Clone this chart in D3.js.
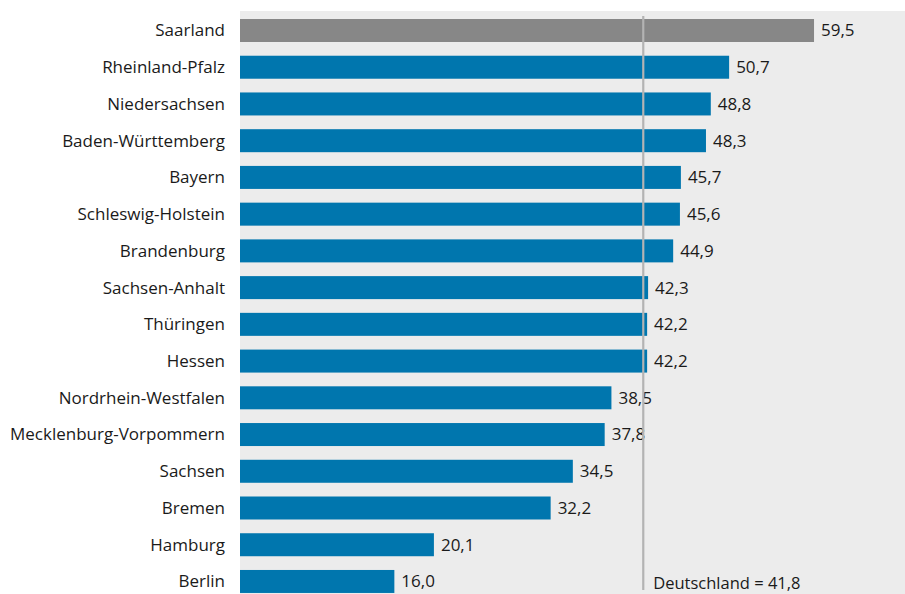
<!DOCTYPE html>
<html>
<head>
<meta charset="utf-8">
<script src="https://cdn.jsdelivr.net/npm/d3@7"></script>
<style>
  html, body { margin: 0; padding: 0; background: #ffffff; }
  svg { display: block; }
  text { font-family: "Open Sans", "Noto Sans", sans-serif; fill: #1a1a1a; }
</style>
</head>
<body>
<svg id="chart" width="905" height="594"></svg>
<script>
// Bundesländer, sorted by value
const states = [
  "Saarland", "Rheinland-Pfalz", "Niedersachsen", "Baden-Württemberg", "Bayern",
  "Schleswig-Holstein", "Brandenburg", "Sachsen-Anhalt", "Thüringen", "Hessen",
  "Nordrhein-Westfalen", "Mecklenburg-Vorpommern", "Sachsen", "Bremen", "Hamburg", "Berlin"
];
const values = [59.5, 50.7, 48.8, 48.3, 45.7, 45.6, 44.9, 42.3, 42.2, 42.2, 38.5, 37.8, 34.5, 32.2, 20.1, 16.0];
const highlighted = ["Saarland"];
const nationalLabel = "Deutschland";
const nationalValue = 41.8;

const fmt = v => d3.format(".1f")(v).replace(".", ",");

const svg = d3.select("#chart");
const W = 905, H = 594;
const plotLeft = 240, plotTop = 11;
const fontSize = 17;

const x = d3.scaleLinear().domain([0, 68.93]).range([plotLeft, W]);
const y = d3.scaleBand().domain(states).range([5.26, 606.7]).padding(0.374);

// plot background
svg.append("rect")
  .attr("x", plotLeft).attr("y", plotTop)
  .attr("width", W - plotLeft).attr("height", H - plotTop)
  .attr("fill", "#ececec");

const data = states.map((s, i) => ({ state: s, value: values[i] }));

// bars
svg.append("g").selectAll("rect").data(data).join("rect")
  .attr("x", x(0))
  .attr("y", d => y(d.state))
  .attr("width", d => x(d.value) - x(0))
  .attr("height", y.bandwidth())
  .attr("fill", d => highlighted.includes(d.state) ? "#878787" : "#0076ae");

// category labels
svg.append("g").selectAll("text").data(data).join("text")
  .attr("x", plotLeft - 15)
  .attr("y", d => y(d.state) + y.bandwidth() / 2)
  .attr("dy", "0.35em")
  .attr("text-anchor", "end")
  .attr("font-size", fontSize)
  .text(d => d.state);

// value labels
svg.append("g").selectAll("text").data(data).join("text")
  .attr("x", d => x(d.value) + 7)
  .attr("y", d => y(d.state) + y.bandwidth() / 2)
  .attr("dy", "0.35em")
  .attr("font-size", fontSize)
  .text(d => fmt(d.value));

// national average reference line
svg.append("line")
  .attr("x1", x(nationalValue)).attr("x2", x(nationalValue))
  .attr("y1", 16).attr("y2", 590)
  .attr("stroke", "#b3b3b3")
  .attr("stroke-width", 2.2);

svg.append("text")
  .attr("x", x(nationalValue) + 10)
  .attr("y", 589)
  .attr("font-size", fontSize - 0.5)
  .text(`${nationalLabel} = ${fmt(nationalValue)}`);
</script>
</body>
</html>
